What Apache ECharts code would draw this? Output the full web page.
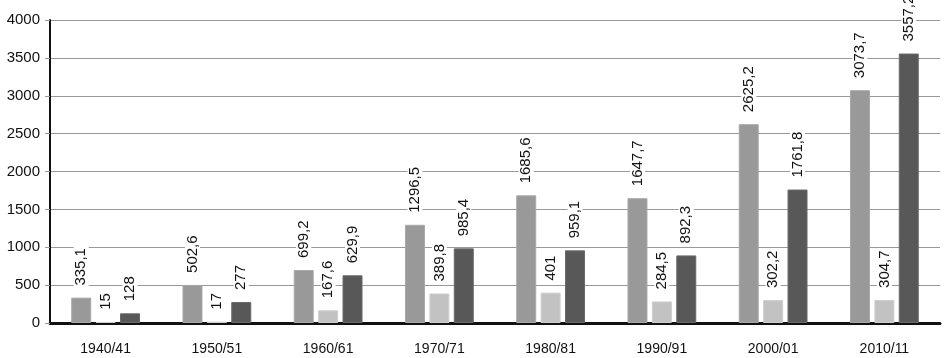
<!DOCTYPE html>
<html>
<head>
<meta charset="utf-8">
<script src="https://cdn.jsdelivr.net/npm/echarts@6/dist/echarts.min.js"></script>
<style>
  html, body { margin: 0; padding: 0; background: #fff; }
  #chart { width: 947px; height: 358px; }
</style>
</head>
<body>
<div id="chart"></div>
<script>
const categories = ['1940/41', '1950/51', '1960/61', '1970/71', '1980/81', '1990/91', '2000/01', '2010/11']
const seriesA = [335.1, 502.6, 699.2, 1296.5, 1685.6, 1647.7, 2625.2, 3073.7]
const seriesB = [15, 17, 167.6, 389.8, 401, 284.5, 302.2, 304.7]
const seriesC = [128, 277, 629.9, 985.4, 959.1, 892.3, 1761.8, 3557.2]
const yTicks = { min: 0, max: 4000, interval: 500 }

const chart = echarts.init(document.getElementById('chart'))
const font = 'Liberation Sans, Arial, sans-serif'

const labelStyle = {
  show: true,
  position: 'top',
  rotate: 90,
  align: 'left',
  verticalAlign: 'middle',
  distance: 10,
  fontFamily: font,
  fontSize: 15,
  color: '#111',
  backgroundColor: '#fff',
  padding: [0, 2],
  formatter: p => String(p.value).replace('.', ',')
}

function bar(data, color, border) {
  return {
    type: 'bar',
    data,
    barWidth: 20,
    barGap: '22%',
    itemStyle: { color, borderColor: border, borderWidth: 1 },
    label: labelStyle
  }
}

chart.setOption({
  backgroundColor: '#fff',
  animation: false,
  grid: { left: 50, right: 7, top: 20, bottom: 35 },
  xAxis: {
    type: 'category',
    data: categories,
    axisLine: { lineStyle: { color: '#111', width: 3 } },
    axisTick: { show: false },
    axisLabel: { margin: 19, fontSize: 14, color: '#111', fontFamily: font }
  },
  yAxis: {
    type: 'value',
    min: yTicks.min,
    max: yTicks.max,
    interval: yTicks.interval,
    axisLine: { show: true, lineStyle: { color: '#111', width: 2 } },
    axisTick: { show: true, length: 5, lineStyle: { color: '#999' } },
    axisLabel: { margin: 10, fontSize: 15, color: '#111', fontFamily: font, formatter: v => String(v) },
    splitLine: { lineStyle: { color: '#999', width: 1 } }
  },
  series: [
    bar(seriesA, '#999999', '#a8a8a8'),
    bar(seriesB, '#c2c2c2', '#cfcfcf'),
    bar(seriesC, '#585858', '#6a6a6a')
  ]
})
</script>
</body>
</html>
